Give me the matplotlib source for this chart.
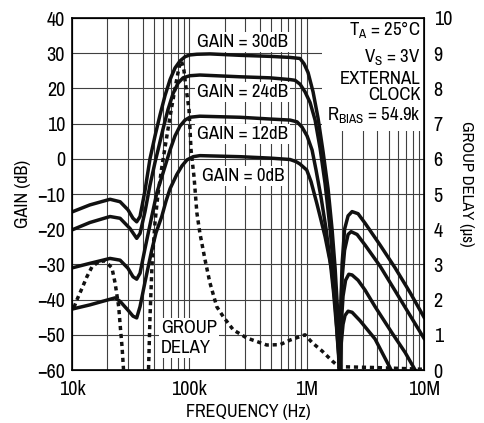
import matplotlib.pyplot as plt
from matplotlib import font_manager
from matplotlib.patches import Rectangle
from matplotlib.ticker import LogLocator, NullFormatter

# the original uses a condensed sans, take one if there is one
narrow = [f.name for f in font_manager.fontManager.ttflist
          if 'Narrow' in f.name or 'Condensed' in f.name]
dejavu_cond = [f for f in font_manager.fontManager.ttflist
               if f.name == 'DejaVu Sans' and f.stretch == 'condensed']
if narrow:
    plt.rcParams['font.family'] = [narrow[0], 'DejaVu Sans']
    big = True
elif dejavu_cond:
    plt.rcParams['font.family'] = ['DejaVu Sans']
    plt.rcParams['font.stretch'] = 'condensed'
    big = True
else:
    plt.rcParams['font.family'] = ['Liberation Sans', 'DejaVu Sans']
    big = False
plt.rcParams['mathtext.fontset'] = 'custom'
plt.rcParams['mathtext.rm'] = plt.rcParams['font.family'][0]

# gain curves (Hz, dB)
freq_30 = [10e3, 14.2e3, 21.1e3, 25.7e3, 30e3, 33.1e3, 35.6e3, 38e3, 41.9e3, 46.2e3,
           51e3, 56.3e3, 62.1e3, 68.5e3, 75.5e3, 83.3e3, 91.9e3, 101e3, 116e3, 150e3,
           270e3, 488e3, 722e3, 878e3, 950e3, 1.028e6, 1.134e6, 1.251e6, 1.38e6, 1.522e6,
           1.646e6, 1.747e6, 1.834e6, 1.889e6, 1.91e6, 1.945e6, 2.003e6, 2.104e6, 2.254e6, 2.438e6,
           2.742e6, 3.147e6, 4.225e6, 5.675e6, 7.61e6, 10e6]
gain_30 = [-15.1, -13.1, -11.5, -12.2, -14.5, -16.9, -17.9, -16.4, -9, 0,
           6.5, 12.5, 18, 22.5, 25.8, 27.8, 29, 29.5, 29.7, 29.8,
           29.4, 29.1, 28.8, 28.5, 27, 24.5, 19, 11.5, 2, -8.5,
           -20, -31, -43, -54, -62, -45, -30, -20, -16.2, -15,
           -15.6, -18.3, -24.5, -31, -38, -45]

freq_24 = [10e3, 14.2e3, 21.1e3, 25.7e3, 31.2e3, 35.6e3, 38e3, 41.9e3, 46.2e3, 51e3,
           54.1e3, 59.7e3, 65.8e3, 72.6e3, 80.1e3, 88.4e3, 101e3, 123e3, 270e3, 488e3,
           722e3, 796e3, 878e3, 969e3, 1.069e6, 1.18e6, 1.301e6, 1.435e6, 1.585e6, 1.712e6,
           1.816e6, 1.889e6, 1.91e6, 1.945e6, 2.003e6, 2.104e6, 2.254e6, 2.391e6, 2.69e6, 3.147e6,
           4.225e6, 5.675e6, 7.61e6, 10e6]
gain_24 = [-20.2, -18.1, -16.4, -16.9, -19.8, -22.6, -21.2, -15, -7.5, -1,
           2.5, 8.5, 14, 18.5, 21.5, 23, 23.6, 23.8, 23.3, 23,
           22.5, 22.3, 21.2, 19, 16, 11, 3, -7, -20, -33,
           -45, -56, -62, -45, -34, -26, -21.5, -20.7, -21.5, -24.5,
           -30.5, -37.5, -44.5, -51]

freq_12 = [10e3, 14.2e3, 21.1e3, 25.7e3, 30e3, 33.1e3, 35.6e3, 38e3, 41.9e3, 47.8e3,
           53e3, 59.7e3, 68.5e3, 75.5e3, 83.3e3, 91.9e3, 101e3, 123e3, 270e3, 488e3,
           722e3, 828e3, 913e3, 1.008e6, 1.112e6, 1.202e6, 1.327e6, 1.464e6, 1.585e6, 1.696e6,
           1.799e6, 1.871e6, 1.91e6, 1.963e6, 2.042e6, 2.146e6, 2.285e6, 2.438e6, 2.742e6, 3.147e6,
           3.828e6, 5.346e6, 6.9e6, 8.57e6]
gain_12 = [-31, -29.7, -28.3, -28.8, -31.1, -33.5, -34.2, -32.5, -25.5, -16.4,
           -9.5, -4, 2.5, 6.5, 9.3, 11, 11.8, 12.1, 11.8, 11.3,
           11, 10.5, 9, 6.5, 2.5, -3.2, -11, -20, -29, -38,
           -48, -56, -62, -48, -39, -34.5, -32.8, -33, -34.5, -37.3,
           -42, -49.5, -55, -60.5]

freq_0 = [10e3, 14.2e3, 23.3e3, 25.7e3, 30e3, 33.1e3, 35.6e3, 38e3, 41.9e3, 47.8e3,
          52e3, 58.2e3, 63.3e3, 68.5e3, 78.1e3, 86.6e3, 95.6e3, 108e3, 123e3, 270e3,
          488e3, 722e3, 812e3, 878e3, 1.002e6, 1.09e6, 1.219e6, 1.327e6, 1.435e6, 1.637e6,
          1.747e6, 1.827e6, 1.889e6, 1.91e6, 1.963e6, 2.042e6, 2.123e6, 2.254e6, 2.438e6, 2.853e6,
          3.828e6, 5.346e6]
gain_0 = [-42.7, -41.5, -39.5, -40.5, -43, -44.7, -45.2, -42, -35, -26,
          -21, -16.4, -12, -8.5, -4.5, -2, -0.3, 0.6, 0.9, 0.6,
          0.2, -0.2, -0.8, -1.5, -3.2, -6.5, -12.6, -17.5, -22.1, -31.6,
          -41, -50.5, -57, -62, -53, -47, -44.5, -43.3, -43.6, -46,
          -51.2, -60.5]

# group delay (Hz, us)
freq_gd = [10.4e3, 11e3, 12.2e3, 13.4e3, 14.8e3, 16.9e3, 19.1e3, 21.9e3, 23.3e3, 25e3,
           25.8e3, 26.7e3, 27.5e3, 36e3, 44.9e3, 46.2e3, 48.1e3, 51e3, 54.1e3, 58.5e3,
           63.3e3, 68.5e3, 75.5e3, 81.7e3, 85.8e3, 90.1e3, 91.9e3, 99.4e3, 103.4e3, 109.7e3,
           116e3, 123e3, 136.1e3, 150e3, 171.2e3, 195e3, 237e3, 308.6e3, 456.8e3, 593.2e3,
           722e3, 878e3, 969e3, 1.112e6, 1.353e6, 1.646e6, 1.871e6, 2.123e6, 3.828e6, 10e6]
gd = [1.78, 1.99, 2.33, 2.65, 2.93, 3.08, 3.1, 2.9, 2.47, 1.8,
      1.23, 0.66, 0.0, -1.0, 0.0, 1.5, 3.0, 4.2, 5.0, 5.8,
      6.5, 7.2, 8.0, 8.6, 8.78, 8.5, 8.24, 7.39, 6.25, 5.48,
      4.46, 3.89, 3.13, 2.47, 1.8, 1.51, 1.14, 0.91, 0.71, 0.72,
      0.85, 0.95, 1.0, 0.78, 0.54, 0.26, 0.1, 0.09, 0.07, 0.02]

gain_labels = ['GAIN = 30dB', 'GAIN = 24dB', 'GAIN = 12dB', 'GAIN = 0dB']
xticks = [1e4, 1e5, 1e6, 1e7]
xticklabels = ['10k', '100k', '1M', '10M']

fs_tick = 14.5 if big else 12.5
fs_lab = 13 if big else 11
fs_txt = 13.5 if big else 11.5

fig = plt.figure(figsize=(4.84, 4.23), dpi=100)
ax = fig.add_axes([72 / 484, 53 / 423, 352 / 484, 352 / 423])
ax2 = ax.twinx()

for f, g in [(freq_30, gain_30), (freq_24, gain_24), (freq_12, gain_12), (freq_0, gain_0)]:
    ax.plot(f, g, color='#111111', lw=2.5, solid_joinstyle='round', zorder=2)

ax.set_xscale('log')
ax.set_xlim(1e4, 1e7)
ax.set_ylim(-60, 40)
ax.set_yticks(range(-60, 41, 10))
ax.set_xticks(xticks)
ax.set_xticklabels(xticklabels)
ax.xaxis.set_minor_locator(LogLocator(base=10, subs=range(2, 10)))
ax.xaxis.set_minor_formatter(NullFormatter())
ax.grid(True, which='both', color='0.25', lw=0.8)
ax.tick_params(which='both', length=0, labelsize=fs_tick)
ax.tick_params(axis='x', pad=7)
ax.tick_params(axis='y', pad=5)
for s in ax.spines.values():
    s.set_linewidth(1.2)

ax2.plot(freq_gd, gd, color='#111111', lw=2.5, ls=(0, (1.2, 1.1)))
ax2.set_ylim(0, 10)
ax2.set_yticks(range(0, 11))
ax2.tick_params(length=0, labelsize=fs_tick, pad=7)

ax.set_xlabel('FREQUENCY (Hz)', fontsize=fs_lab, labelpad=4)
ax.set_ylabel('GAIN (dB)', fontsize=fs_lab, labelpad=4)
ax2.set_ylabel('GROUP DELAY (\u00b5s)', fontsize=fs_lab - 1, rotation=270, labelpad=16)
ax2.yaxis.label.set_y(0.53)

# labels with white boxes over the grid
box = dict(fc='white', ec='none', pad=1.5)
for lbl, x, y in zip(gain_labels, [116e3, 116e3, 116e3, 128e3], [33.2, 19.1, 7.0, -4.8]):
    ax.text(x, y, lbl, fontsize=fs_txt, va='center', ha='left', bbox=box, zorder=1.8)
ax.text(57e3, -50.8, 'GROUP\nDELAY', fontsize=fs_txt, va='center', ha='left',
        linespacing=1.3, bbox=box, zorder=1.8)

ax.add_patch(Rectangle((0.71, 0.68), 0.29, 0.32, transform=ax.transAxes,
                       fc='white', ec='none', zorder=1.8))
cond = ['T$_\\mathregular{A}$ = 25°C', 'V$_\\mathregular{S}$ = 3V', 'EXTERNAL', 'CLOCK',
        'R$_\\mathregular{BIAS}$ = 54.9k']
cond_y = [0.949, 0.872, 0.8125, 0.767, 0.707]
for t, y in zip(cond, cond_y):
    ax.text(0.99, y, t, transform=ax.transAxes, fontsize=fs_txt,
            ha='right', va='baseline', zorder=3)

fig.savefig('out.png', dpi=100)
